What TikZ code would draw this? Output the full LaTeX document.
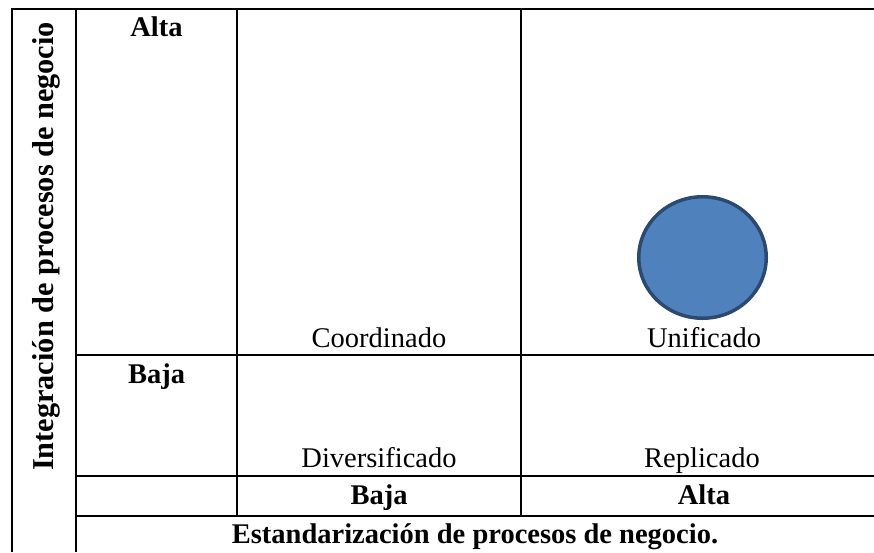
\documentclass[tikz,border=0pt]{standalone}
\usepackage{fontspec}
\setmainfont{Liberation Serif}
\usetikzlibrary{shapes.geometric}
\definecolor{circfill}{HTML}{4F81BD}
\definecolor{circline}{HTML}{2C4A70}
\begin{document}
\begin{tikzpicture}[x=1pt,y=-1pt,
  grid/.style={line width=2.3pt,black},
  lbl/.style={anchor=base,inner sep=0pt,font=\fontsize{28.5}{30}\selectfont},
  blbl/.style={lbl,font=\fontsize{28.5}{30}\selectfont\bfseries}]
\useasboundingbox (0,0) rectangle (874,552);
% grid
\draw[grid] (12,552) -- (12,9) -- (874,9);
\draw[grid] (76,9) -- (76,552);
\draw[grid] (237,9) -- (237,516);
\draw[grid] (521,9) -- (521,516);
\draw[grid] (76,355) -- (874,355);
\draw[grid] (76,476) -- (874,476);
\draw[grid] (76,516) -- (874,516);
% circle
\node[ellipse, draw=circline, fill=circfill, line width=3.5pt, minimum width=127.5pt, minimum height=121.5pt, inner sep=0pt] (circ) at (702.5,257.5) {};
% labels
\node[blbl] (altaY) at (156.5,36) {Alta};
\node[blbl] (bajaY) at (156.5,383) {Baja};
\node[lbl] (coord) at (379,347) {Coordinado};
\node[lbl] (unif) at (704,347) {Unificado};
\node[lbl] (divers) at (379,467) {Diversificado};
\node[lbl] (repl) at (702,467) {Replicado};
\node[blbl] (bajaX) at (379,504) {Baja};
\node[blbl] (altaX) at (704,504) {Alta};
\node[blbl] (xtitle) at (475,543) {Estandarización de procesos de negocio.};
\node[blbl, rotate=90, font=\fontsize{30.3}{32}\selectfont\bfseries] (ytitle) at (53,246.5) {Integración de procesos de negocio};
\end{tikzpicture}
\end{document}
